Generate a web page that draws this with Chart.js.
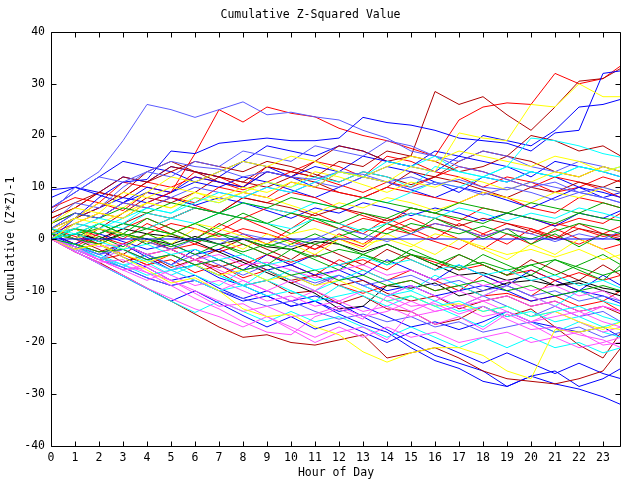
<!DOCTYPE html>
<html>
<head>
<meta charset="utf-8">
<script src="https://cdn.jsdelivr.net/npm/chart.js@4.4.0/dist/chart.umd.min.js"></script>
<style>
  html, body { margin: 0; padding: 0; background: #fff; }
  #wrap { width: 640px; height: 480px; }
</style>
</head>
<body>
<div id="wrap"><canvas id="zchart" width="640" height="480"></canvas></div>
<script>
// x positions (hour of day), one value per hour plus the last quarter
const hours = [0,1,2,3,4,5,6,7,8,9,10,11,12,13,14,15,16,17,18,19,20,21,22,23,23.75];
const xTicks = [0,1,2,3,4,5,6,7,8,9,10,11,12,13,14,15,16,17,18,19,20,21,22,23];
const yTicks = [-40,-30,-20,-10,0,10,20,30,40];

// series (cumulative z*z - 1)
const zeroLine = [0,0,0,0,0,0,0,0,0,0,0,0,0,0,0,0,0,0,0,0,0,0,0,0,0];

const yellow1 = [0,3,5,4,7,6,9,8,10,9,11,10,13,12,11,14,13,20.5,19.5,19,26,25.5,30,27.5,27.5];
const yellow2 = [0,-2,-1,-3.5,-6,-8.5,-7.5,-10,-13.5,-15,-14.5,-17,-18.5,-21.8,-23.8,-22,-21,-21,-22.5,-25.5,-27,-17.5,-18,-17,-17.5];
const yellow3 = [3,6,5,9,8,10,9,7.5,9,11,10,13,12,10.5,9,11,10,12,11,9.5,11,13,12,14,13];
const yellow4 = [1,0,2,1,-0.5,1,3,2,0.5,-1,1,2,0.5,-1,0,-1.5,1,0,-1.5,-3,-2,-3.5,-2,-4,-3];
const yellow5 = [0,-2,-1,-3,-4.5,-3,-5,-7,-6,-8,-7,-9,-8,-10,-12,-11,-13,-12.5,-14,-13,-15,-14,-16,-17.5,-16];
const yellow6 = [2,4,3,5,7,6,8,7,9,8,6.5,5,7,6,8,7,5.5,7,9,8,7,9,8,10,9];
const yellow7 = [1,4,7,6,9,12,11,13,15,14,16,15,13,12,14,16,15,17,16,15,14,16,15,13,14];
const yellow8 = [0,2,0,-2,1,-1,2,0,-2,1,-1,-3,0,-2,1,-1,-3,0,-2,-4,-1,-3,0,-2,-4];

const cyan1 = [0,2,4,3,6,5,7,9,8,10,9,11,13,12,15,14,16,13,12,14,19.5,19,18,16.5,15.8];
const cyan2 = [0,1,-0.5,-2,-1,-3,-2,-4,-3,-5,-4,-6,-5,-3.5,-5,-4,-6,-5,-7,-6,-8,-7,-9,-8,-9.5];
const cyan3 = [1,2,1,3,2,4,3,5,4,3,2,4,3,1.5,3,5,4,6,5,3.5,5,4,6,5,4];
const cyan4 = [0,-2,-3.5,-5,-7,-6,-8,-10,-9,-11,-10,-12,-11,-10,-12,-11,-13,-12,-14,-13,-15,-14,-13,-15,-16];
const cyan5 = [2,1,3,2,5,4,6,5,7,6,5,7,6,8,7,9,11,10,12,14,13,12,14,13,12];
const cyan6 = [0,-1,-3,-5,-4,-6,-5,-7,-9,-8,-6,-8,-7,-9,-11,-10,-12,-14,-13,-15,-14,-16,-15,-17,-16];
const cyan7 = [0,3,2,4,6,5,8,7,9,11,10,12,11,13,12,10,14,13,12,11,13,12,14,13,14];
const cyan8 = [0,-2,-4,-2,-4.5,-7,-5,-7,-9,-6,-8,-10,-8,-6,-8,-10,-7,-9,-11,-9,-11,-13,-10,-12,-13];
const cyan9 = [0,-1.5,-3.5,-5.5,-3,-5,-7,-9,-6,-8,-10,-12,-9,-11,-13,-11,-13,-15,-17,-14,-16,-18,-16,-18,-19];
const cyan10 = [0,-2.4,-4.8,-7.2,-9.6,-12,-14.2,-12,-14,-16,-14,-16,-15,-17,-19,-17,-19,-21,-19,-21,-19,-21,-20,-22,-21];

const magenta1 = [0,-2.5,-4.5,-4,-6.5,-9,-11.5,-13.5,-16,-18,-18.5,-15,-13.5,-15.5,-11,-13,-12.5,-14.5,-13,-15.5,-17.5,-17,-18.5,-19.5,-21];
const magenta2 = [0,-1.5,-4,-6,-5.5,-8,-10.5,-13,-12.5,-15,-17.5,-20,-18,-17,-19.5,-14,-16.5,-15,-17.5,-14.5,-16.5,-19,-18,-20.5,-20];
const magenta3 = [0,-2,-4,-6,-5,-7,-9,-8,-10,-12,-11,-13,-12,-14,-13,-15,-14,-13,-15,-14,-16,-15,-14,-16,-17];
const magenta4 = [0,-2,-3.5,-5,-6.5,-8,-10,-12,-14,-13,-15,-14.5,-13,-15,-14,-12,-14,-13,-12,-11,-13,-12,-14,-13,-14];
const magenta5 = [1,0,-1.5,-1,-3,-2,-4,-3,-5,-4.5,-6,-7.5,-6,-5,-7,-6,-8,-7,-9,-8,-10,-9,-11,-10,-12];
const magenta6 = [0,-2,-4,-6,-8,-6,-8,-10,-8,-10,-12,-10,-7,-9,-11,-9,-11,-13,-11,-9,-11,-13,-15,-13,-14];
const magenta7 = [0,-2,-4,-2,-4,-6,-4,-6,-8,-10,-8,-10,-12,-10,-12,-14,-12,-10,-12,-14,-16,-14,-16,-18,-17];
const magenta8 = [0,-2.4,-4.8,-7,-9.5,-11.5,-13.5,-15,-17,-15,-17,-19,-17,-19,-17,-19,-18,-20,-19,-18,-20,-19,-21,-20,-19];

const green1 = [0,2,1,3,2,1,3,5,4,3,5,4,3,5,4,6,5,4,3,5,4,3,5,4,3.5];
const green2 = [1,0,-1,1,0,-1.5,0,-1,-2.5,-1,-2,-3.5,-2,-3,-4.5,-3,-4,-5.5,-4.5,-6,-5,-4,-5.5,-7,-6];
const green3 = [0,-1,-2.5,-2,-4,-3,-5,-4,-6,-5,-7,-6,-8,-7,-9,-8,-10,-9,-8,-10,-9,-11,-10,-9,-10];
const green4 = [3,5,4,6,5,7,6,5,7,6,8,7,6,8,7,6,5,7,6,5,7,6,5,7,6];
const green5 = [0,1,2,0.5,2,1,-0.5,1,0,-1.5,0,-1,0.5,2,1,3,2,1,2.5,1,0,1.5,3,2,1];
const green6 = [0,-2,0.5,-1.5,1,-1,-3,-1,-3,-5,-2,-4,-6,-3,-5,-2,-4,-6,-3,-5,-7,-4,-6,-8,-5];
const green7 = [2,0,3,1,4,2,0,2.5,5,3,1,4,2,0,3,1,4,2,0,2,-1,1,-1.5,1,-0.5];
const green8 = [0,1,3,1,-1,1,3,1,-1,-3,-1,1,-1,-3,-1,-3,-5,-3,-5,-7,-5,-7,-5,-3,-5];

const lightBlue1 = [5,10,13,19,26,25,23.5,25,26.5,24,24.5,23.6,23,21,19.5,17,16,14,13,11.5,10,11,9,8,7];
const lightBlue2 = [6,9,12,11,13,15,14,13.5,12,13,12,11.5,13,12.5,11,12,10.5,11.5,10,9.5,11,10,9,10,9];
const lightBlue3 = [2,5,4,7,6,8,10,9,8,10,9,11,10,12,11,9.5,11,10,8.5,10,9,7.5,9,8,7];
const lightBlue4 = [0,-1.5,-3,-2,-4,-3,-5,-4,-6,-5,-7,-8.5,-7,-9,-8,-7,-9,-8,-10,-9,-11,-10,-12,-11,-12];
const lightBlue5 = [1,0,2,1,-0.5,-2,0,-1,1,0,-1.5,0,2,1,-0.5,1,3,2,0.5,2,1,-0.5,1,0,1.5];
const lightBlue6 = [0,-2,-4,-5.5,-7.5,-9,-8,-10,-11.5,-13,-12,-14,-15.5,-14.5,-16,-15,-17,-16,-18,-17,-16,-18,-17,-19,-18];
const lightBlue7 = [3,7,6,10,13,12,15,14,17,16,15,18,17,16,19,18,16,15,17,16,14,13,15,14,13];
const lightBlue8 = [0,-1,-3,-1,-3,-5,-3,-5,-7,-5,-7,-9,-7,-9,-11,-9,-11,-13,-11,-13,-15,-13,-15,-14,-16];

const blue1 = [0,4,8,11,11.5,17,16.5,18.5,19,19.5,19,19,19.5,23.5,22.5,22,21,19.5,19,18.5,17,20.5,21,32,32.5];
const blue2 = [2,5,4,7,10,9,12,11,10,13,12,14,13,16,15,14,17,16,20,19,18,21,25.5,26,27];
const blue3 = [1,-1,-3,-1,-3.5,-6,-5,-7.5,-9,-11,-13,-12,-14.5,-16.5,-18,-21,-23.5,-25,-27.5,-28.5,-26.5,-25.5,-28.5,-27,-25];
const blue4 = [0,-2,-1,-3.5,-5.5,-8,-7,-9.5,-11.5,-10,-12,-11,-12.5,-15,-17.5,-20,-22.5,-24,-25.5,-28.5,-26.5,-28,-29,-30.5,-32];
const blue5 = [9.5,10,8.5,7,9,8,6.5,8,7,5.5,4,6,5,7,6,4.5,6,5,3.5,5,4,2.5,5,4,5.5];
const blue6 = [2,4,6,8,7,9,11,10,12,11,9.5,8,10,12,11,9.5,8,10,9,7.5,6,8,10,9,8];
const blue7 = [0,-1,1,-0.5,-2,-1,-3,-2,-4,-6,-5,-7,-6,-8,-10,-9,-11,-10,-9,-10,-12,-11,-10,-11,-12.5];
const blue8 = [1,-1.5,-3.5,-5.5,-7.5,-9,-8,-10,-12,-11,-13,-12,-14,-13,-15,-17,-16,-17.5,-16,-14,-16,-17,-18,-17,-19];
const blue9 = [8,10,9,12,11,14,13,12,15,18,17,16,18,17,15,14,13,16,15,14,12,15,14,13,12];
const blue10 = [6,9,12,15,14,13,11,13,15,14,12,10,13,12,14,13,11,9,12,11,13,12,10,8,9];
const blue11 = [0,-2,-4,-1,-3,-5,-2,-4,-6,-3,-5,-3,-5,-7,-4,-6,-8,-5,-7,-9,-6,-8,-10,-7,-9];
const blue12 = [0,-2.4,-4.8,-7.2,-9.6,-12,-10,-12.4,-14.8,-17,-15,-17.4,-16,-18,-20,-18,-20,-22,-24,-22,-24,-26,-24,-26,-27];

const black1 = [0,1,0,2,1,0.5,-0.5,-2.5,-4.5,-6.5,-8.5,-10.5,-13.5,-13,-9,-9.5,-8.5,-11,-10,-8.5,-8,-9,-8.5,-10,-11];
const black2 = [0,1,-0.5,1,0,-1,0.5,-1,0,-1.5,-2,-0.5,-1,-2.5,-1,-3,-5,-7,-6.5,-8,-7,-9,-8,-9.5,-10];

const darkRed1 = [1,4,6,9,13,15,13,12,11,14,13,12,15,14,17,16,28.5,26,27.5,24,21,25.5,30.5,31,33];
const darkRed2 = [0,-2.5,-4.5,-7,-9.5,-12,-14.5,-17,-19,-18.5,-20,-20.5,-19.5,-18.5,-23,-22,-21,-23,-25.5,-27,-27.5,-28,-27,-25.5,-21];
const darkRed3 = [2,0,-2,-4.5,-3,-5.5,-4,-6.5,-9,-8,-10.5,-10,-12.5,-11,-13.5,-14,-16.5,-15.5,-13,-15,-13.5,-17,-20.5,-23,-18];
const darkRed4 = [0,2,1,3,5,4,6,5,8,7,6,4.5,6,5,3.5,5,4,2.5,4,3,1.5,0,2,1,0.5];
const darkRed5 = [1,-1,-2.5,-1,-3,-2,-4,-5.5,-4,-6,-8,-7,-9,-8,-10.5,-12,-11,-13.5,-12,-11,-13,-12,-14,-13,-14.5];
const darkRed6 = [5,7,9,12,11,13,15,14,13,15,14,12.5,11,13,12,10.5,12,11,9.5,8,10,9,11,10,11.5];
const darkRed7 = [4,6,9,8,11,14,13,11,10,13,12,15,18,17,15,16,15,13,14,16,15,13,12,14,13];
const darkRed8 = [0,3,2,5,8,7,9,12,11,10,12,11,9,8,10,13,12,15,17,16,20,19,17,18,16];
const darkRed9 = [0,1,-1,-3,0,-2,-4,-2,0,-2,-4,-1,-3,-5,-2,-4,-6,-3,-5,-7,-4,-6,-8,-5,-7];

const red1 = [1,3,5,4,7,9,16.5,25,22.6,25.5,24.3,23.6,21.4,20,19,17.5,16,23,25.5,26.3,26,32,30,31,33.5];
const red2 = [3,5,4,7,6,8,7,10,9,8,11,10,9,8,10,9,8,7,9,8,6,5,8,7,6];
const red3 = [0,-1.5,1,3,2,4,6,5,4,6,5,3.5,2,4,3,1.5,3,2,0.5,2,1,3,2,0.5,1];
const red4 = [1,2,0.5,-1,1,3,2,0.5,2,1,-0.5,-2,0,-1.5,2,1,-0.5,-2,1,3,2,0.5,-1,1,2.5];
const red5 = [6,8,7,5.5,9,8,6.5,5,8,7,9,8,6,4.5,3,6,5,3.5,6,5,4,2.5,4,3,5];
const red6 = [2,0.5,-1,1,-0.5,-2,-1,-2.5,-1,-3,-4.5,-3,-5,-4,-6,-3,-4.5,-6,-5,-7,-6,-8,-6.5,-8,-7];
const red7 = [0,-2,-4,-3,-5,-4,-6.5,-5,-7.5,-6,-8.5,-7,-9,-10.5,-9,-8,-10,-9,-11,-10.5,-12,-11,-13,-12,-14];
const red8 = [4,6,9,8,11,10,12,11,9.5,11,13,12,10.5,9,11,10,12,14,13,11.5,10,12,11,9.5,8];
const red9 = [2,4,7,11,10,9,13,12,10,14,13,15,14,12,16,15,13,12,10,12,11,9,10,12,11];
const red10 = [0,2,-0.5,2,4,2,0,3,1,-1,2,5,3,1,4,2,0,3,1,-1,2,0,3,1,0];
const red11 = [1,-1,2,0,3,1,-1,1.5,4,2,0,-2,1,-1,2,4,2,0,-2,1,-1,2,0,-2,-1];
const red12 = [0,-2,-1,-3,-5,-3,-5,-7,-5,-3,-5,-7,-4,-6,-8,-6,-8,-10,-7,-9,-11,-8,-10,-12,-10];

// line colours
const YELLOW = '#ffff00', CYAN = '#00ffff', MAGENTA = '#ff50ff', GREEN = '#00a800';
const LIGHTBLUE = '#5a5aff', BLUE = '#0000ff', BLACK = '#000000', DARKRED = '#b00000', RED = '#ff0000';

const seriesList = [
    [zeroLine, BLUE],
    [yellow1, YELLOW], [cyan1, CYAN], [magenta1, MAGENTA], [green1, GREEN], [lightBlue1, LIGHTBLUE],
    [yellow2, YELLOW], [cyan2, CYAN], [magenta2, MAGENTA], [green2, GREEN], [lightBlue2, LIGHTBLUE],
    [yellow3, YELLOW], [cyan3, CYAN], [magenta3, MAGENTA], [green3, GREEN], [lightBlue3, LIGHTBLUE],
    [yellow4, YELLOW], [cyan4, CYAN], [magenta4, MAGENTA], [green4, GREEN], [lightBlue4, LIGHTBLUE],
    [yellow5, YELLOW], [cyan5, CYAN], [magenta5, MAGENTA], [green5, GREEN], [lightBlue5, LIGHTBLUE],
    [yellow6, YELLOW], [cyan6, CYAN], [magenta6, MAGENTA], [green6, GREEN], [lightBlue6, LIGHTBLUE],
    [yellow7, YELLOW], [cyan7, CYAN], [magenta7, MAGENTA], [green7, GREEN], [lightBlue7, LIGHTBLUE],
    [yellow8, YELLOW], [cyan8, CYAN], [magenta8, MAGENTA], [green8, GREEN], [lightBlue8, LIGHTBLUE],
    [cyan9, CYAN], [cyan10, CYAN],
    [black1, BLACK], [black2, BLACK],
    [blue1, BLUE], [darkRed1, DARKRED], [red1, RED],
    [blue2, BLUE], [darkRed2, DARKRED], [red2, RED],
    [blue3, BLUE], [darkRed3, DARKRED], [red3, RED],
    [blue4, BLUE], [darkRed4, DARKRED], [red4, RED],
    [blue5, BLUE], [darkRed5, DARKRED], [red5, RED],
    [blue6, BLUE], [darkRed6, DARKRED], [red6, RED],
    [blue7, BLUE], [darkRed7, DARKRED], [red7, RED],
    [blue8, BLUE], [darkRed8, DARKRED], [red8, RED],
    [blue9, BLUE], [darkRed9, DARKRED], [red9, RED],
    [blue10, BLUE], [red10, RED],
    [blue11, BLUE], [red11, RED],
    [blue12, BLUE], [red12, RED]
];

const FONT = { family: "'DejaVu Sans Mono', monospace", size: 11.5, lineHeight: 1.2 };


// frame with inward ticks on all four sides
const framePlugin = {
    id: 'frame',
    afterDatasetsDraw(chart) {
        const ctx = chart.ctx;
        const a = chart.chartArea;
        const xs = chart.scales.x, ys = chart.scales.y;
        const L = a.left + 0.5, R = a.right - 0.5, T = a.top + 0.5, B = a.bottom + 0.5;
        const tl = 5;
        ctx.save();
        ctx.strokeStyle = '#000';
        ctx.lineWidth = 1;
        ctx.beginPath();
        ctx.rect(L, T, R - L, B - T);
        xTicks.forEach(v => {
            const px = Math.round(xs.getPixelForValue(v)) + 0.5;
            ctx.moveTo(px, B); ctx.lineTo(px, B - tl);
            ctx.moveTo(px, T); ctx.lineTo(px, T + tl);
        });
        yTicks.forEach(v => {
            const py = Math.round(ys.getPixelForValue(v)) + 0.5;
            ctx.moveTo(L, py); ctx.lineTo(L + tl, py);
            ctx.moveTo(R, py); ctx.lineTo(R - tl, py);
        });
        ctx.stroke();
        ctx.restore();
    }
};


function makeDatasets() {
    return seriesList.map(([vals, col]) => ({
        data: hours.map((h, i) => ({ x: h, y: vals[i] })),
        borderColor: col,
        borderWidth: 1,
        pointRadius: 0,
        tension: 0,
        fill: false
    }));
}


const ctx = document.getElementById('zchart').getContext('2d');
new Chart(ctx, {
    type: 'line',
    data: { datasets: makeDatasets() },
    options: {
        responsive: false,
        animation: false,
        devicePixelRatio: 1,
        layout: { padding: { left: 0, right: 19, top: 0, bottom: 0 } },
        plugins: {
            legend: { display: false },
            tooltip: { enabled: false },
            title: {
                display: true,
                text: 'Cumulative Z-Squared Value',
                color: '#000',
                font: Object.assign({}, FONT, { weight: 'normal' }),
                padding: { top: 8, bottom: 10.2 }
            }
        },
        scales: {
            x: {
                type: 'linear',
                min: 0,
                max: 23.75,
                afterBuildTicks: s => { s.ticks = xTicks.map(v => ({ value: v })); },
                afterFit: s => { s.height = 34; },
                grid: { display: false, drawTicks: false },
                border: { display: false },
                ticks: { color: '#000', font: FONT, padding: 5, maxRotation: 0, autoSkip: false },
                title: { display: true, text: 'Hour of Day', color: '#000', font: FONT, padding: { top: 0, bottom: 0 } }
            },
            y: {
                type: 'linear',
                min: -40,
                max: 40,
                afterBuildTicks: s => { s.ticks = yTicks.map(v => ({ value: v })); },
                afterFit: s => { s.width = 51; },
                grid: { display: false, drawTicks: false },
                border: { display: false },
                ticks: { color: '#000', font: FONT, padding: 6 },
                title: { display: true, text: 'Cumulative (Z*Z)-1', color: '#000', font: FONT, padding: { top: 4, bottom: 0 } }
            }
        }
    },
    plugins: [framePlugin]
});
</script>
</body>
</html>
